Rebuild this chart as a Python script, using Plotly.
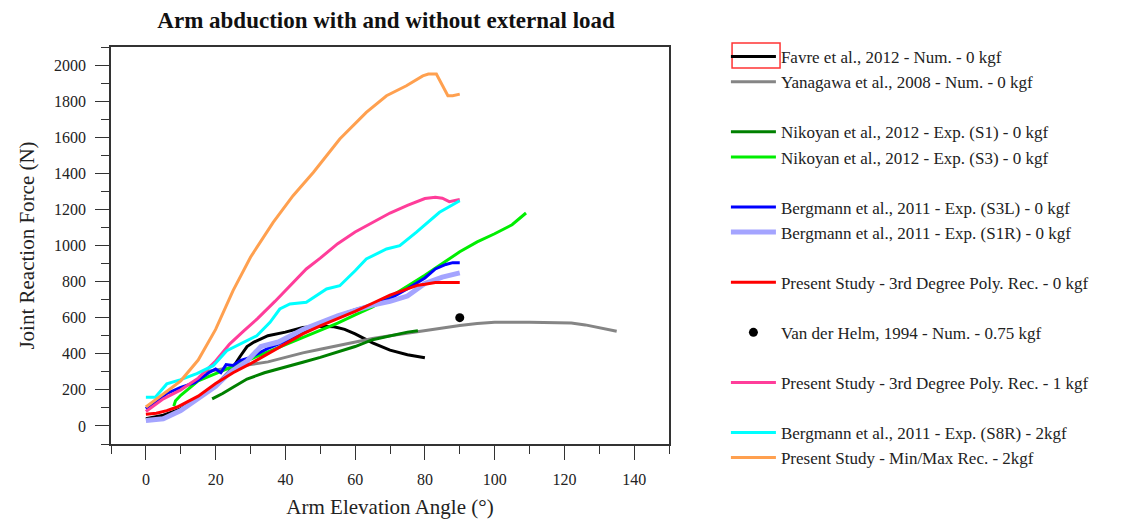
import plotly.graph_objects as go

# ---------------- data ----------------
fav_x = [0, 5, 10, 15, 20, 25, 27, 29, 31, 35, 40, 45, 50, 54, 57, 60, 65, 70, 75, 80]
fav_y = [40, 60, 95, 155, 225, 325, 385, 440, 465, 500, 520, 545, 552, 550, 535, 510, 460, 420, 395, 378]

yan_x = [17, 20, 25, 30, 35, 40, 45, 50, 55, 60, 65, 70, 75, 80, 85, 90, 95, 100, 110, 118, 122, 126, 130, 135]
yan_y = [300, 310, 325, 340, 355, 380, 405, 425, 445, 465, 485, 500, 515, 530, 545, 557, 568, 574, 574, 574, 570, 560, 545, 525]

nks1_x = [19, 22, 25, 29, 34, 38, 45, 50, 55, 60, 65, 70, 75, 78]
nks1_y = [150, 180, 215, 260, 295, 315, 353, 380, 410, 440, 478, 500, 520, 528]

nks3_x = [8, 8.5, 10, 15, 20, 25, 30, 35, 40, 45, 50, 55, 60, 65, 70, 75, 80, 85, 90, 95, 100, 105, 109]
nks3_y = [110, 140, 170, 250, 290, 330, 370, 410, 450, 490, 530, 570, 615, 660, 715, 775, 835, 900, 965, 1020, 1065, 1115, 1180]

b3l_x = [0, 3, 6, 10, 14, 18, 20, 21.5, 23, 25, 27, 30, 35, 40, 45, 50, 55, 60, 65, 70, 75, 80, 83, 86, 88, 90]
b3l_y = [95, 140, 180, 214, 240, 295, 316, 295, 340, 335, 362, 380, 430, 470, 520, 570, 610, 645, 672, 705, 760, 820, 870, 895, 905, 905]

b1r_x = [0, 5, 10, 15, 20, 24, 29, 33, 38, 45, 50, 55, 60, 65, 70, 75, 80, 85, 90]
b1r_y = [30, 40, 85, 155, 220, 295, 360, 440, 465, 535, 575, 610, 640, 670, 690, 720, 790, 825, 848]

r0_x = [0, 3, 6, 9, 12, 15, 20, 25, 30, 35, 40, 45, 50, 55, 60, 65, 70, 75, 78, 80, 83, 86, 90]
r0_y = [65, 70, 85, 105, 135, 165, 235, 295, 345, 400, 455, 510, 555, 595, 635, 680, 725, 760, 780, 785, 795, 795, 795]

vdh_x = [90]
vdh_y = [600]

p1_x = [0, 5, 10, 15, 20, 24, 28, 32, 37, 42, 46, 50, 55, 60, 65, 70, 75, 80, 83, 85, 87, 90]
p1_y = [80, 150, 200, 265, 360, 454, 525, 595, 690, 790, 870, 930, 1010, 1075, 1128, 1180, 1222, 1260, 1267, 1262, 1243, 1255]

c8_x = [0, 2.7, 6, 9.8, 14.6, 19.3, 23.2, 27, 31.8, 35.6, 38.4, 41.3, 46, 51.8, 55.6, 60, 63.2, 69, 72.8, 77.5, 84.2, 90]
c8_y = [159, 159, 233, 255, 290, 334, 417, 454, 500, 574, 648, 676, 685, 759, 777, 860, 925, 981, 999, 1073, 1184, 1248]

mm_x = [0, 5, 10, 15, 20, 25, 30, 36.5, 42.2, 48, 55.6, 63.2, 69, 74.7, 79.4, 81, 83.3, 86.6, 88, 90]
mm_y = [105, 175, 250, 365, 535, 750, 935, 1128, 1276, 1405, 1590, 1738, 1830, 1885, 1940, 1950, 1950, 1830, 1830, 1839]

x_ticks = [0, 20, 40, 60, 80, 100, 120, 140]
y_ticks = [0, 200, 400, 600, 800, 1000, 1200, 1400, 1600, 1800, 2000]

FONT = "Liberation Serif"

series = [
    ("Favre et al., 2012 - Num. - 0 kgf", fav_x, fav_y, "#000000", 3, "g1"),
    ("Yanagawa et al., 2008 - Num. - 0 kgf", yan_x, yan_y, "#858585", 3, "g1"),
    ("Nikoyan et al., 2012 - Exp. (S1) - 0 kgf", nks1_x, nks1_y, "#008000", 3, "g2"),
    ("Nikoyan et al., 2012 - Exp. (S3) - 0 kgf", nks3_x, nks3_y, "#00ee00", 3, "g2"),
    ("Bergmann et al., 2011 - Exp. (S3L) - 0 kgf", b3l_x, b3l_y, "#0000ff", 3, "g3"),
    ("Bergmann et al., 2011 - Exp. (S1R) - 0 kgf", b1r_x, b1r_y, "#a4a4ff", 5, "g3"),
    ("Present Study - 3rd Degree Poly. Rec. - 0 kgf", r0_x, r0_y, "#ff0000", 3, "g4"),
]

fig = go.Figure()
for name, xs, ys, col, w, grp in series:
    fig.add_trace(go.Scatter(x=xs, y=ys, mode="lines", name=name,
                             line=dict(color=col, width=w), legendgroup=grp))

fig.add_trace(go.Scatter(x=vdh_x, y=vdh_y, mode="markers",
                         name="Van der Helm, 1994 - Num. - 0.75 kgf",
                         marker=dict(color="#000000", size=9), legendgroup="g5"))

for name, xs, ys, col, w, grp in [
    ("Present Study - 3rd Degree Poly. Rec. - 1 kgf", p1_x, p1_y, "#ff3d9a", 3, "g6"),
    ("Bergmann et al., 2011 - Exp. (S8R) - 2kgf", c8_x, c8_y, "#00ffff", 3, "g7"),
    ("Present Study - Min/Max Rec. - 2kgf", mm_x, mm_y, "#ffa04f", 3, "g7"),
]:
    fig.add_trace(go.Scatter(x=xs, y=ys, mode="lines", name=name,
                             line=dict(color=col, width=w), legendgroup=grp))

axis_common = dict(
    showline=True, linecolor="#333333", linewidth=1.5, mirror=True,
    ticks="outside", ticklen=14, tickwidth=1.3, tickcolor="#333333",
    showgrid=False, zeroline=False, automargin=False,
    ticklabelstandoff=6,
    tickfont=dict(family=FONT, size=16, color="#222222"),
)

fig.update_xaxes(range=[-10, 150], tickvals=x_ticks,
                 minor=dict(ticks="outside", ticklen=8, dtick=10, tick0=0,
                            tickcolor="#333333", tickwidth=1.3, showgrid=False),
                 title=dict(text="Arm Elevation Angle (°)",
                            font=dict(family=FONT, size=21, color="#222222"), standoff=12),
                 **axis_common)
fig.update_yaxes(range=[-100, 2100], tickvals=y_ticks,
                 minor=dict(ticks="outside", ticklen=8, dtick=100, tick0=0,
                            tickcolor="#333333", tickwidth=1.3, showgrid=False),
                 title=dict(text="Joint Reaction Force (N)",
                            font=dict(family=FONT, size=21, color="#222222"), standoff=14),
                 **axis_common)

# the page body adds an 8px offset, so margins are shifted by 8px
fig.update_layout(
    width=1121, height=519,
    margin=dict(l=103, r=460, t=39, b=83),
    paper_bgcolor="white", plot_bgcolor="white",
    title=dict(text="<b>Arm abduction with and without external load</b>",
               x=0.493, xref="paper", xanchor="center",
               y=1 - 12 / 519, yref="container", yanchor="middle",
               font=dict(family=FONT, size=23, color="#111111")),
    legend=dict(x=1.102, y=1.020, xanchor="left", yanchor="top",
                traceorder="grouped", tracegroupgap=25, maxheight=700,
                font=dict(family=FONT, size=17, color="#222222"),
                bgcolor="rgba(0,0,0,0)", itemwidth=45),
    shapes=[dict(type="rect", xref="paper", yref="paper",
                 x0=1.113, x1=1.199, y0=0.947, y1=1.010,
                 line=dict(color="#ff3333", width=1.5))],
)

fig.write_html("out.html")
